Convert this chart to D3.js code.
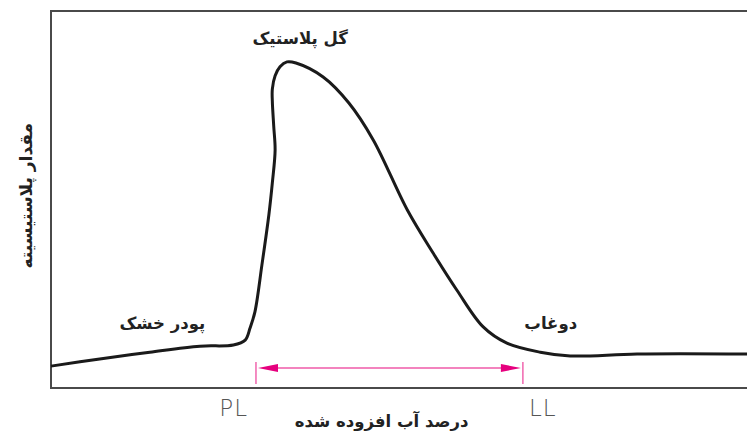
<!DOCTYPE html>
<html>
<head>
<meta charset="utf-8">
<script src="https://cdn.jsdelivr.net/npm/d3@7"></script>
<style>
  body { margin: 0; background: #fff; }
  svg { display: block; }
</style>
</head>
<body>
<svg id="chart" width="747" height="431"></svg>
<script>
// plasticity vs. water content (x: 0-100, y: 0-100)
const curveX = [0, 7.0, 14.2, 21.4, 26.2, 27.9, 28.6, 29.3, 30.3, 31.3, 31.8, 32.2, 32.0, 31.8, 31.8, 32.2, 32.9, 33.9, 35.2, 39.1, 42.8, 46.3, 51.2, 54.9, 58.3, 62.1, 65.5, 70.3, 74.6, 84.2, 100];
const curveY = [5.8, 7.7, 9.5, 11.1, 11.4, 12.7, 15.9, 20.2, 32.6, 45.9, 54.4, 63.1, 69.5, 76.1, 79.3, 82.8, 85.2, 86.5, 86.2, 82.5, 75.6, 65.8, 47.2, 35.8, 26.0, 16.2, 11.9, 9.5, 8.5, 9.0, 9.0];

const stateNames = ["پودر خشک", "گل پلاستیک", "دوغاب"];
const stateX = [16.0, 35.8, 71.8];
const stateY = [15.6, 91.3, 15.6];

const limitNames = ["PL", "LL"];
const limitValues = [29.45, 67.8];

const xTitle = "درصد آب افزوده شده";
const yTitle = "مقدار پلاستیسیته";

const svg = d3.select("#chart");
const margin = { top: 11, right: 0, bottom: 43, left: 51 };
const W = +svg.attr("width"), H = +svg.attr("height");

const x = d3.scaleLinear().domain([0, 100]).range([margin.left, W - margin.right]);
const y = d3.scaleLinear().domain([0, 100]).range([H - margin.bottom, margin.top]);

const arabicFont = "'DejaVu Sans', sans-serif";

// frame: top, left, bottom (open on the right)
const frame = svg.append("g").attr("class", "frame")
  .attr("fill", "none")
  .attr("stroke", "#4a4a4a")
  .attr("stroke-width", 2);
frame.append("path")
  .attr("d", `M${x(100)},${y(100)}H${x(0)}V${y(0)}H${x(100)}`);

// the curve
const pts = curveX.map((v, i) => [v, curveY[i]]);
svg.append("path")
  .datum(pts)
  .attr("fill", "none")
  .attr("stroke", "#1a1a1a")
  .attr("stroke-width", 3)
  .attr("stroke-linejoin", "round")
  .attr("d", d3.line()
    .x(d => x(d[0]))
    .y(d => y(d[1]))
    .curve(d3.curveCatmullRom.alpha(0.5)));

// state labels
svg.selectAll("text.state")
  .data(stateNames)
  .enter()
  .append("text")
  .attr("class", "state")
  .attr("x", (d, i) => x(stateX[i]))
  .attr("y", (d, i) => y(stateY[i]))
  .attr("text-anchor", "middle")
  .attr("direction", "rtl")
  .attr("font-family", arabicFont)
  .attr("font-weight", "bold")
  .attr("font-size", 16.5)
  .attr("fill", "#222")
  .text(d => d);

// plastic range arrow between PL and LL
const arrowY = y(5.3);
const pink = "#ef5aa8", pinkDark = "#e6007e";
const rng = svg.append("g").attr("class", "range");
rng.append("line")
  .attr("x1", x(limitValues[0]) + 18).attr("x2", x(limitValues[1]) - 18)
  .attr("y1", arrowY).attr("y2", arrowY)
  .attr("stroke", pink).attr("stroke-width", 1.6);
limitValues.forEach((v, i) => {
  const px = x(v);
  rng.append("line")
    .attr("x1", px).attr("x2", px)
    .attr("y1", arrowY - 6).attr("y2", arrowY + 16)
    .attr("stroke", pink).attr("stroke-width", 1.4);
  const dir = i === 0 ? 1 : -1;
  const tip = px + dir * 2;
  rng.append("path")
    .attr("d", `M${tip},${arrowY}L${tip + dir * 20},${arrowY - 4}L${tip + dir * 20},${arrowY + 4}Z`)
    .attr("fill", pinkDark);
});

// PL / LL labels under the axis
svg.selectAll("text.limit")
  .data(limitNames)
  .enter()
  .append("text")
  .attr("class", "limit")
  .attr("x", (d, i) => x(limitValues[i]) + (i === 0 ? -8 : 6))
  .attr("y", y(0) + 28)
  .attr("text-anchor", (d, i) => i === 0 ? "end" : "start")
  .attr("font-family", "'DejaVu Sans', sans-serif")
  .attr("font-weight", 200)
  .attr("font-size", 23)
  .attr("letter-spacing", 1)
  .attr("fill", "#555")
  .text(d => d);

// axis titles
svg.append("text")
  .attr("x", x(47.5))
  .attr("y", H - 4)
  .attr("text-anchor", "middle")
  .attr("direction", "rtl")
  .attr("font-family", arabicFont)
  .attr("font-weight", "bold")
  .attr("font-size", 16.5)
  .attr("fill", "#222")
  .text(xTitle);

svg.append("text")
  .attr("transform", `translate(32,${y(51)}) rotate(-90)`)
  .attr("text-anchor", "middle")
  .attr("direction", "rtl")
  .attr("font-family", arabicFont)
  .attr("font-weight", "bold")
  .attr("font-size", 17)
  .attr("fill", "#222")
  .text(yTitle);
</script>
</body>
</html>
